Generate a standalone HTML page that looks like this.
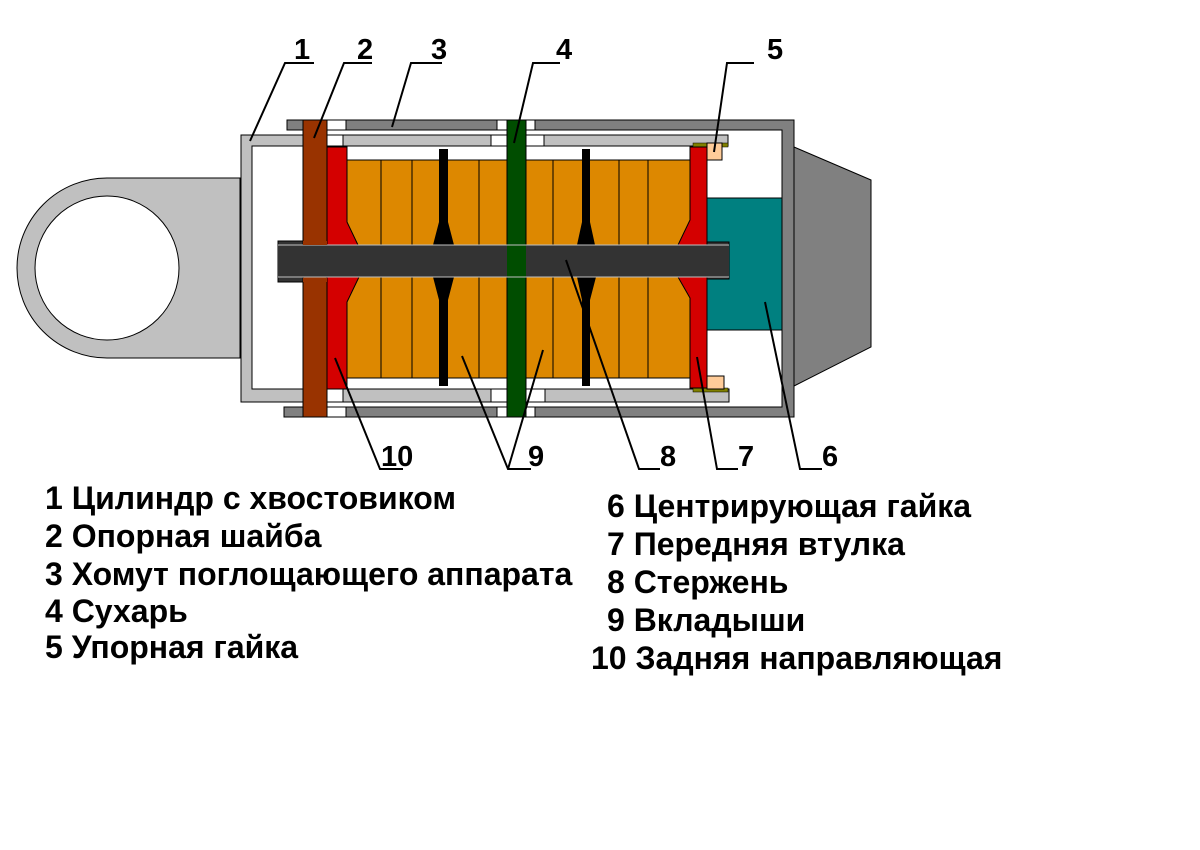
<!DOCTYPE html>
<html><head><meta charset="utf-8"><style>html,body{margin:0;padding:0;background:#fff}svg{display:block}</style></head>
<body>
<svg width="1200" height="850" viewBox="0 0 1200 850" xmlns="http://www.w3.org/2000/svg" font-family="'Liberation Sans', Arial, sans-serif">
<rect width="1200" height="850" fill="#fff"/>
<path d="M240,178 L107,178 A90,90 0 0 0 107,358 L240,358 Z" fill="#c0c0c0" stroke="#000" stroke-width="1"/>
<circle cx="107" cy="268" r="72" fill="#fff" stroke="#000" stroke-width="1"/>
<path d="M241,135 L303,135 L303,146 L252,146 L252,389 L303,389 L303,402 L241,402 Z" fill="#c0c0c0" stroke="#000"/>
<polygon points="794,147 871,180 871,347 794,386" fill="#808080" stroke="#000" stroke-width="1"/>
<path d="M287,120 L794,120 L794,417 L284,417 L284,407 L782,407 L782,130 L287,130 Z" fill="#808080" stroke="#000"/>
<rect x="326" y="120" width="20" height="10" fill="#fff" stroke="#000"/>
<rect x="497" y="120" width="10" height="10" fill="#fff" stroke="#000"/>
<rect x="526" y="120" width="9" height="10" fill="#fff" stroke="#000"/>
<rect x="326" y="407" width="20" height="10" fill="#fff" stroke="#000"/>
<rect x="497" y="407" width="10" height="10" fill="#fff" stroke="#000"/>
<rect x="526" y="407" width="9" height="10" fill="#fff" stroke="#000"/>
<rect x="303" y="135" width="40" height="11" fill="#fff" stroke="#000"/>
<rect x="343" y="135" width="148" height="11" fill="#c0c0c0" stroke="#000"/>
<rect x="491" y="135" width="53" height="11" fill="#fff" stroke="#000"/>
<rect x="544" y="135" width="184" height="11" fill="#c0c0c0" stroke="#000"/>
<rect x="303" y="389" width="40" height="13" fill="#fff" stroke="#000"/>
<rect x="343" y="389" width="148" height="13" fill="#c0c0c0" stroke="#000"/>
<rect x="491" y="389" width="54" height="13" fill="#fff" stroke="#000"/>
<rect x="545" y="389" width="184" height="13" fill="#c0c0c0" stroke="#000"/>
<rect x="693" y="143" width="35" height="4" fill="#808000" stroke="#000" stroke-width=".5"/>
<rect x="693" y="388" width="35" height="4" fill="#808000" stroke="#000" stroke-width=".5"/>
<rect x="707" y="143" width="15" height="17" fill="#ffcc99" stroke="#000"/>
<rect x="707" y="376" width="17" height="13" fill="#ffcc99" stroke="#000"/>
<rect x="707" y="198" width="75" height="132" fill="#008080" stroke="#000"/>
<rect x="347" y="160" width="343" height="218" fill="#dd8800" stroke="#000"/>
<g stroke="#000" stroke-width="1">
<line x1="381" y1="160" x2="381" y2="378"/><line x1="412" y1="160" x2="412" y2="378"/>
<line x1="479" y1="160" x2="479" y2="378"/><line x1="553" y1="160" x2="553" y2="378"/>
<line x1="619" y1="160" x2="619" y2="378"/><line x1="648" y1="160" x2="648" y2="378"/>
</g>
<polygon points="439,149 448,149 448,222 454,245 454,277 448,300 448,386 439,386 439,300 433,277 433,245 439,222" fill="#000"/>
<polygon points="582,149 590,149 590,222 595,245 596,277 590,300 590,386 582,386 582,300 577,277 577,245 582,222" fill="#000"/>
<rect x="303" y="120" width="24" height="297" fill="#993300" stroke="#000"/>
<rect x="507" y="120" width="19" height="297" fill="#004d00" stroke="#000"/>
<polygon points="327,147 347,147 347,222 358,245 359,277 347,302 347,389 327,389" fill="#d40000" stroke="#000"/>
<polygon points="690,147 707,147 707,388 690,388 690,298 678,277 678,245 690,220" fill="#d40000" stroke="#000"/>
<rect x="278" y="241" width="25" height="41" fill="#333" stroke="#000"/>
<rect x="707" y="242" width="22" height="37" fill="#333" stroke="#000"/>
<rect x="278" y="245" width="451" height="32" fill="#333"/>
<line x1="278" y1="245" x2="729" y2="245" stroke="#c0c0c0"/>
<line x1="278" y1="277" x2="729" y2="277" stroke="#c0c0c0"/>
<rect x="303" y="241" width="24" height="4" fill="#993300"/><rect x="303" y="278" width="24" height="4" fill="#993300"/>
<rect x="507" y="245" width="19" height="32" fill="#004d00"/>
<line x1="507" y1="245" x2="526" y2="245" stroke="#c0c0c0"/><line x1="507" y1="277" x2="526" y2="277" stroke="#c0c0c0"/>
<g stroke="#000" stroke-width="2" fill="none">
<polyline points="314,63 285,63 250,141"/>
<polyline points="372,63 344,63 314,138"/>
<polyline points="442,63 411,63 392,127"/>
<polyline points="560,63 533,63 514,143"/>
<polyline points="754,63 727,63 714,152"/>
<polyline points="403,469 380,469 335,358"/>
<polyline points="462,356 508,469 531,469"/>
<line x1="508" y1="469" x2="543" y2="350"/>
<polyline points="566,260 639,469 660,469"/>
<polyline points="697,357 717,469 738,469"/>
<polyline points="765,302 800,469 822,469"/>
</g>
<g font-size="29" font-weight="bold" fill="#000">
<text x="294" y="59">1</text><text x="357" y="59">2</text><text x="431" y="59">3</text><text x="556" y="59">4</text><text x="767" y="59">5</text>
<text x="381" y="466">10</text><text x="528" y="466">9</text><text x="660" y="466">8</text><text x="738" y="466">7</text><text x="822" y="466">6</text>
</g>
<g font-size="32" font-weight="bold" fill="#000">
<text x="45" y="509">1 Цилиндр с хвостовиком</text>
<text x="45" y="547">2 Опорная шайба</text>
<text x="45" y="585">3 Хомут поглощающего аппарата</text>
<text x="45" y="622">4 Сухарь</text>
<text x="45" y="658">5 Упорная гайка</text>
<text x="607" y="517">6 Центрирующая гайка</text>
<text x="607" y="555">7 Передняя втулка</text>
<text x="607" y="593">8 Стержень</text>
<text x="607" y="631">9 Вкладыши</text>
<text x="591" y="669">10 Задняя направляющая</text>
</g>
</svg>
</body></html>
